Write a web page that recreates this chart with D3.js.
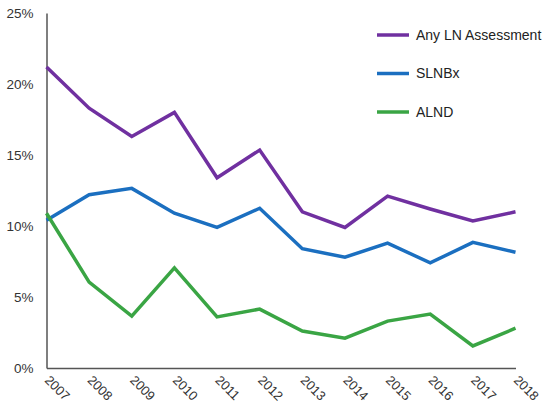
<!DOCTYPE html>
<html><head><meta charset="utf-8">
<script src="https://cdn.jsdelivr.net/npm/d3@7"></script>
<style>
html,body{margin:0;padding:0;background:#fff;}
svg text{font-family:"Liberation Sans",Arial,sans-serif;}
</style></head>
<body><svg id="chart" width="542" height="410"></svg>
<script>
const years = [2007,2008,2009,2010,2011,2012,2013,2014,2015,2016,2017,2018];
const anyLN = [21.2,18.3,16.3,18.0,13.4,15.35,11.0,9.9,12.1,11.2,10.35,11.0];
const slnbx = [10.4,12.2,12.65,10.9,9.9,11.25,8.4,7.8,8.8,7.4,8.85,8.15];
const alnd  = [10.9,6.05,3.65,7.05,3.6,4.15,2.6,2.1,3.3,3.8,1.55,2.8];
const seriesNames = ["Any LN Assessment","SLNBx","ALND"];
const seriesColors = ["#7030a0","#1b6fc0","#3aa544"];
const yTicks = [0,5,10,15,20,25];

const svg = d3.select("#chart");
const x = d3.scalePoint().domain(years).range([46.5,515.5]);
const y = d3.scaleLinear().domain([0,25]).range([368,13]);

// axes
const yAxis = svg.append("g").attr("transform","translate(46.5,0)")
  .call(d3.axisLeft(y).tickValues(yTicks).tickFormat(d=>d+"%").tickSize(0).tickPadding(13));
yAxis.select(".domain").attr("stroke","#555").attr("stroke-width",1.5);
yAxis.selectAll("text").attr("font-size",13.5).attr("fill","#333");

const xAxis = svg.append("g").attr("transform","translate(0,368)")
  .call(d3.axisBottom(x).tickSize(0).tickFormat(d=>d));
xAxis.select(".domain").attr("stroke","#555").attr("stroke-width",1.5);
xAxis.selectAll("text").attr("font-size",13).attr("fill","#333")
  .attr("text-anchor","start").attr("dy",null).attr("y",0)
  .attr("transform","translate(-3,13) rotate(45)");

const data = [anyLN, slnbx, alnd];
const line = d3.line().x((d,i)=>x(years[i])).y(d=>y(d));
data.forEach((s,k)=>{
  svg.append("path").datum(s).attr("d",line).attr("fill","none")
    .attr("stroke",seriesColors[k]).attr("stroke-width",3.5)
    .attr("stroke-linejoin","miter");
});

// legend
const leg = svg.append("g");
seriesNames.forEach((n,k)=>{
  const ly = 35 + k*38.5;
  leg.append("line").attr("x1",377).attr("x2",409).attr("y1",ly).attr("y2",ly)
    .attr("stroke",seriesColors[k]).attr("stroke-width",3.5);
  leg.append("text").attr("x",416).attr("y",ly).attr("dy","0.35em")
    .attr("font-size",14).attr("fill","#222").text(n);
});
</script></body></html>
